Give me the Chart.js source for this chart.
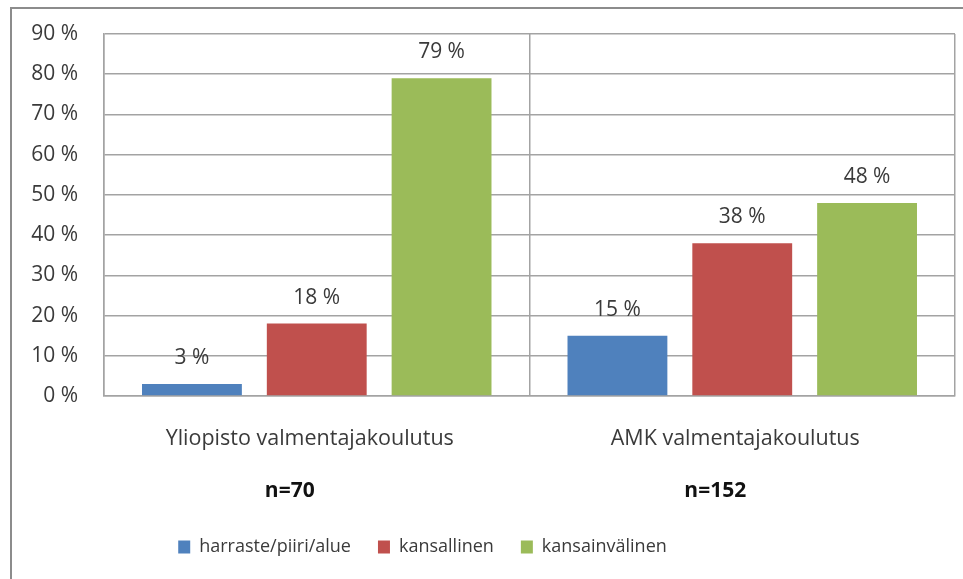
<!DOCTYPE html>
<html>
<head>
<meta charset="utf-8">
<script src="https://cdn.jsdelivr.net/npm/chart.js@4"></script>
<style>
  body { margin: 0; background: #fff; }
  #wrap { position: relative; width: 963px; height: 579px; }
  #frame { position: absolute; left: 10px; top: 7px; right: -5px; bottom: -5px;
           border-left: 2px solid #8c8c8c; border-top: 2px solid #8c8c8c; pointer-events: none; }
</style>
</head>
<body>
<div id="wrap">
  <canvas id="chart" width="963" height="579"></canvas>
  <div id="frame"></div>
</div>
<script>
// data
const categories = ['Yliopisto valmentajakoulutus', 'AMK valmentajakoulutus'];
const sampleSizes = ['n=70', 'n=152'];
const seriesNames = ['harraste/piiri/alue', 'kansallinen', 'kansainvälinen'];
const harraste = [3, 15];
const kansallinen = [18, 38];
const kansainvalinen = [79, 48];
const yTicks = [0, 10, 20, 30, 40, 50, 60, 70, 80, 90];

const textColor = '#3a3a3a';
const gridColor = '#a3a3a3';
const fontName = '"Open Sans", sans-serif';

// value labels above bars
const barLabels = {
    id: 'barLabels',
    afterDatasetsDraw(chart) {
        const ctx = chart.ctx;
        ctx.save();
        ctx.font = '21px ' + fontName;
        ctx.fillStyle = textColor;
        ctx.textAlign = 'center';
        ctx.textBaseline = 'alphabetic';
        chart.data.datasets.forEach((ds, i) => {
            chart.getDatasetMeta(i).data.forEach((bar, j) => {
                ctx.fillText(ds.data[j] + ' %', bar.x, bar.y - 20);
            });
        });
        ctx.restore();
    }
};

// legend sits left of centre in the original
const legendShift = {
    id: 'legendShift',
    afterLayout(chart) {
        chart.legend.left -= 55;
        chart.legend.right -= 55;
    }
};

new Chart(document.getElementById('chart'), {
    type: 'bar',
    data: {
        labels: categories,
        datasets: [
            {label: seriesNames[0], data: harraste, backgroundColor: '#4f81bd'},
            {label: seriesNames[1], data: kansallinen, backgroundColor: '#c0504d'},
            {label: seriesNames[2], data: kansainvalinen, backgroundColor: '#9bbb59'},
        ]
    },
    options: {
        responsive: false,
        animation: false,
        categoryPercentage: 0.88,
        barPercentage: 0.8,
        layout: { padding: { top: 34, right: 8, left: 0, bottom: 13 } },
        scales: {
            y: {
                min: 0, max: 90,
                afterBuildTicks(scale) { scale.ticks = yTicks.map(v => ({value: v})); },
                afterFit(scale) {
                    scale.width = 104;
                    scale.paddingTop = 0;
                    scale.paddingBottom = 0;
                },
                ticks: {
                    padding: 26,
                    color: textColor,
                    font: { family: fontName, size: 21 },
                    callback: v => v + ' %'
                },
                grid: { color: gridColor, lineWidth: 1.5, drawTicks: false },
                border: { color: gridColor, width: 1.5 }
            },
            x: {
                afterFit(scale) { scale.height = 68; },
                ticks: {
                    padding: 30,
                    labelOffset: -7,
                    color: textColor,
                    font: { family: fontName, size: 21.5 }
                },
                grid: { color: gridColor, lineWidth: 1.5, drawTicks: false, offset: true },
                border: { color: gridColor, width: 1.5 }
            },
            x2: {
                type: 'category',
                labels: sampleSizes,
                position: 'bottom',
                afterFit(scale) { scale.height = 47; },
                ticks: {
                    padding: 14,
                    labelOffset: -27,
                    color: '#111',
                    font: { family: fontName, size: 21, weight: 'bold' }
                },
                grid: { display: false, drawTicks: false },
                border: { display: false }
            }
        },
        plugins: {
            legend: {
                position: 'bottom',
                labels: {
                    color: textColor,
                    font: { family: fontName, size: 18 },
                    boxWidth: 12,
                    boxHeight: 13,
                    padding: 27
                }
            },
            tooltip: { enabled: false }
        }
    },
    plugins: [barLabels, legendShift]
});
</script>
</body>
</html>
